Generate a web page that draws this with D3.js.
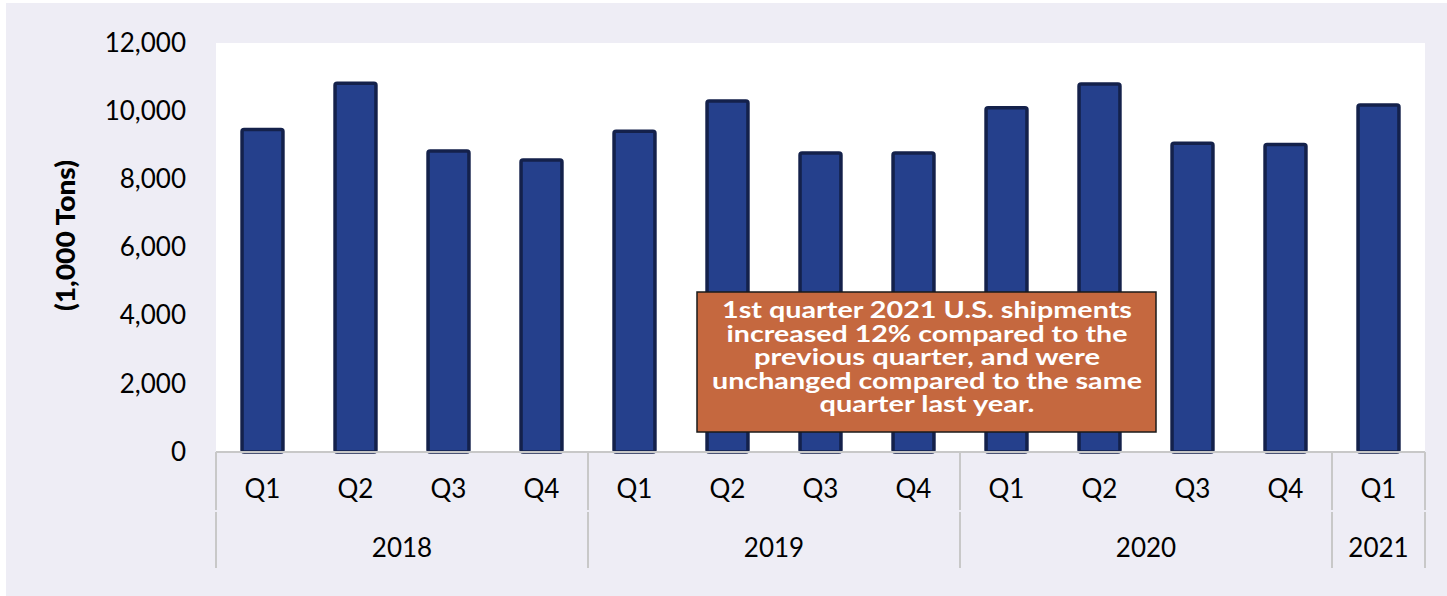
<!DOCTYPE html>
<html>
<head>
<meta charset="utf-8">
<script src="https://cdn.jsdelivr.net/npm/d3@7"></script>
<style>
  html, body { margin: 0; padding: 0; background: #ffffff; }
  svg { display: block; font-family: Lato, "Open Sans", sans-serif; }
</style>
</head>
<body>
<div id="chart"></div>
<script>
// chart data
const years = ["2018", "2019", "2020", "2021"]
const quarters = ["Q1", "Q2", "Q3", "Q4", "Q1", "Q2", "Q3", "Q4", "Q1", "Q2", "Q3", "Q4", "Q1"]
const quarterYears = ["2018", "2018", "2018", "2018", "2019", "2019", "2019", "2019", "2020", "2020", "2020", "2020", "2021"]
const shipments = [9460, 10820, 8830, 8570, 9410, 10300, 8770, 8770, 10100, 10800, 9060, 9020, 10180]
const yTicks = [0, 2000, 4000, 6000, 8000, 10000, 12000]
const yLabel = "(1,000 Tons)"
const noteLines = [
  "1st quarter 2021 U.S. shipments",
  "increased 12% compared to the",
  "previous quarter, and were",
  "unchanged compared to the same",
  "quarter last year."
]

const W = 1447, H = 596
const margin = { top: 43, right: 22, bottom: 144, left: 216 }
const width = W - margin.left - margin.right
const height = H - margin.top - margin.bottom

const svg = d3.select("#chart").append("svg")
  .attr("width", W)
  .attr("height", H)

// lavender backdrop
svg.append("rect")
  .attr("x", 6).attr("y", 3)
  .attr("width", W - 6).attr("height", H - 3)
  .attr("fill", "#eeedf5")

const g = svg.append("g")
  .attr("transform", "translate(" + margin.left + "," + margin.top + ")")

// white plot area
g.append("rect")
  .attr("width", width)
  .attr("height", height)
  .attr("fill", "#ffffff")

const idx = d3.range(shipments.length)
const x = d3.scaleBand()
  .domain(idx)
  .range([0, width])
  .paddingInner(0.56)
  .paddingOuter(0.28)

const y = d3.scaleLinear()
  .domain([0, 12000])
  .range([height, 0])

// y axis labels
const yAxis = g.append("g")
  .call(d3.axisLeft(y).tickValues(yTicks).tickFormat(d3.format(",")).tickSize(0).tickPadding(30))
yAxis.select(".domain").remove()
yAxis.selectAll("text")
  .style("font-family", "Lato, sans-serif")
  .style("font-size", "26px")
  .attr("fill", "#000")

// axis title
g.append("text")
  .attr("transform", "translate(" + (-150) + "," + (height / 2 - 12) + ")rotate(-90)")
  .attr("text-anchor", "middle")
  .attr("dy", "0.35em")
  .attr("textLength", 151)
  .attr("lengthAdjust", "spacingAndGlyphs")
  .style("font-size", "26px")
  .style("font-weight", "900")
  .text(yLabel)

// bars
g.selectAll("rect.bar")
  .data(idx)
  .enter()
  .append("rect")
    .attr("class", "bar")
    .attr("x", function(i) { return x(i) })
    .attr("y", function(i) { return y(shipments[i]) })
    .attr("width", x.bandwidth())
    .attr("height", function(i) { return height - y(shipments[i]) })
    .attr("rx", 2)
    .attr("fill", "#25408c")
    .attr("stroke", "#14214b")
    .attr("stroke-width", 3.5)

// category axis (quarters + years)
const step = x.step()
const rowSplit = 58
const axisG = g.append("g").attr("transform", "translate(0," + height + ")")
axisG.append("line")
  .attr("x1", 0).attr("x2", width)
  .attr("stroke", "#c8c8c8").attr("stroke-width", 2)

axisG.selectAll("text.q")
  .data(idx)
  .enter()
  .append("text")
    .attr("class", "q")
    .attr("x", function(i) { return x(i) + x.bandwidth() / 2 })
    .attr("y", 46)
    .attr("text-anchor", "middle")
    .style("font-size", "26px")
    .text(function(i) { return quarters[i] })

// year groups
const groups = years.map(function(yr) {
  const members = idx.filter(function(i) { return quarterYears[i] === yr })
  return { year: yr, first: members[0], last: members[members.length - 1] }
})
const edges = [0].concat(groups.map(function(gr) { return x(gr.last) + x.bandwidth() / 2 + step / 2 }))
edges[edges.length - 1] = width

edges.forEach(function(ex) {
  axisG.append("line")
    .attr("x1", ex).attr("x2", ex)
    .attr("y1", 0).attr("y2", rowSplit)
    .attr("stroke", "#c8c8c8").attr("stroke-width", 2)
  axisG.append("line")
    .attr("x1", ex).attr("x2", ex)
    .attr("y1", rowSplit + 2).attr("y2", 116)
    .attr("stroke", "#c8c8c8").attr("stroke-width", 2)
})

axisG.selectAll("text.yr")
  .data(groups)
  .enter()
  .append("text")
    .attr("class", "yr")
    .attr("x", function(d, i) { return (edges[i] + edges[i + 1]) / 2 })
    .attr("y", 105)
    .attr("text-anchor", "middle")
    .style("font-size", "26px")
    .text(function(d) { return d.year })

// annotation box
const note = svg.append("g")
note.append("rect")
  .attr("x", 697).attr("y", 292)
  .attr("width", 459).attr("height", 140)
  .attr("fill", "#c5683f")
  .attr("stroke", "#1a1a1a")
  .attr("stroke-width", 1.5)
const noteWidths = [410, 401, 346, 430, 215]
note.selectAll("text")
  .data(noteLines)
  .enter()
  .append("text")
    .attr("x", 927)
    .attr("y", function(d, i) { return 318 + i * 23.5 })
    .attr("text-anchor", "middle")
    .attr("textLength", function(d, i) { return noteWidths[i] })
    .attr("lengthAdjust", "spacingAndGlyphs")
    .attr("fill", "#ffffff")
    .style("font-size", "22px")
    .style("font-weight", "bold")
    .text(function(d) { return d })
</script>
</body>
</html>
